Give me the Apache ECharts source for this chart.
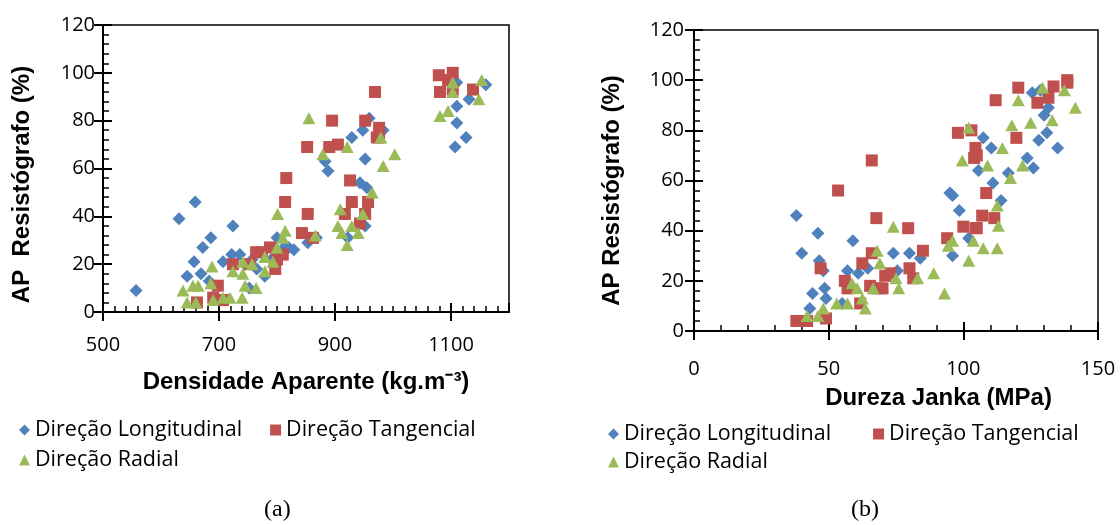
<!DOCTYPE html>
<html>
<head>
<meta charset="utf-8">
<script src="https://cdn.jsdelivr.net/npm/echarts@6/dist/echarts.min.js"></script>
<style>
  html, body { margin: 0; padding: 0; background: #fff; }
  #main { width: 1120px; height: 525px; }
</style>
</head>
<body>
<div id="main"></div>
<script>
// nomes das séries
var seriesNames = ['Direção Longitudinal', 'Direção Tangencial', 'Direção Radial'];

// (a) densidade aparente x AP resistógrafo
var densLong = [[557,9],[631,39],[645,15],[657,21],[659,46],[669,16],[672,27],[683,13],[686,31],[707,21],
    [722,24],[724,36],[736,24],[745,20],[752,10],[757,22],[765,18],[779,15],[790,22],[800,31],[812,27],
    [820,27],[829,26],[853,29],[868,31],[883,63],[888,59],[922,31],[929,73],[943,54],[948,76],[952,64],
    [952,36],[955,52],[959,81],[983,76],[1107,69],[1110,86],[1110,79],[1126,73],[1131,89],[1160,95],[1110,96]];
var densTang = [[662,4],[690,6],[698,11],[707,5],[724,20],[753,20],[764,25],[774,25],[788,27],[797,18],
    [800,22],[810,24],[814,46],[816,56],[843,33],[852,69],[853,41],[862,31],[890,69],[895,80],[905,70],
    [917,41],[926,55],[929,46],[943,37],[952,41],[952,80],[957,46],[969,92],[972,73],[976,77],[976,73],
    [1079,99],[1081,92],[1095,97],[1103,100],[1103,93],[1138,93]];
var densRad = [[638,9],[645,4],[655,11],[660,4],[664,11],[686,12],[688,19],[690,5],[707,6],[719,6],
    [724,17],[740,6],[741,16],[741,21],[745,11],[757,20],[764,10],[779,17],[779,23],[793,21],[800,27],
    [801,41],[810,31],[814,34],[855,81],[866,32],[879,66],[905,36],[909,43],[912,33],[921,28],[921,69],
    [929,36],[940,33],[948,41],[964,50],[979,73],[983,61],[1003,66],[1081,82],[1095,84],[1103,96],
    [1103,92],[1148,89],[1153,97]];

// (b) dureza janka x AP resistógrafo
var jankaLong = [[38,46],[40,31],[43,9],[44,15],[46,39],[46.5,28],[48,24],[48.5,17],[49,13],[55,11],
    [57,24],[59,36],[61,23],[64.5,25],[74,31],[75.5,24],[80,31],[84,29],[95,55],[96,54],[96,30],[98.5,48],
    [102,37],[105.6,64],[107.4,77],[110.4,73],[111,59],[114,52],[116.7,63],[123.7,69],[125.6,95],[126,65],
    [128,76],[128.6,96],[130,86],[131,79],[131.6,89],[135,73]];
var jankaTang = [[38,4],[42,4],[47,25],[49,5],[53.5,56],[56,20],[57,17],[61.7,11],[62.5,27],[65.4,18],
    [66,31],[66,68],[67.7,45],[68,17],[70,17],[71,22],[73,23],[79.5,41],[80,25],[81.4,21],[85,32],[94,37],
    [98,79],[100,41.6],[103,80],[104,69],[104.5,73],[104.5,41],[105,70],[105,41],[107,46],[108.5,55],
    [111.5,45],[112,92],[119.7,77],[120.4,97],[127.5,91],[131.6,93],[133.5,97.5],[138.6,100],[138.6,99]];
var jankaRad = [[42,6],[46,6],[48,9],[53,11],[57,11],[58.7,19],[60.6,17],[62.5,13],[63.6,9],[66.5,17],
    [68,32],[69,27],[74,41.6],[75,21],[76,17],[83,21],[89,23],[93,15],[94.4,34],[96,36],[99.6,68],[102,28],
    [102,81],[103.7,36],[107.4,33],[109,66],[112.6,33],[112.6,50],[113,42],[114.5,73],[117.5,61],[118,82],
    [120.4,92],[122,66],[125,83],[129.4,97],[133,84],[137.5,96],[141.6,89]];

var cores = ['#4F81BD', '#C0504D', '#9BBB59'];
var simbolos = ['diamond', 'rect', 'triangle'];
var tamanhos = [[13,13], [12,12], [13,12]];

var labelFont = { fontFamily: 'Open Sans', fontSize: 20, color: '#000' };
var titleFont = { fontFamily: 'Liberation Sans', fontWeight: 'bold', color: '#000', fontSize: 24 };

// eixo principal: linha, ticks para fora, rótulos
function eixoX(grid, min, max, step, name, gap, pad, margem, showMax) {
    return {
        type: 'value', gridIndex: grid, position: 'bottom', min: min, max: max, interval: step,
        name: name, nameLocation: 'middle', nameGap: gap,
        nameTextStyle: Object.assign({ padding: [0, 0, 0, pad] }, titleFont),
        axisLine: { show: true, onZero: false, lineStyle: { color: '#000', width: 2 } },
        axisTick: { show: true, inside: false, length: 9, lineStyle: { color: '#000', width: 2 } },
        axisLabel: Object.assign({ margin: margem, showMaxLabel: showMax,
            formatter: function (v) { return String(v); } }, labelFont),
        splitLine: { show: false }
    };
}
function eixoY(grid, name, gap, margem, pad) {
    return {
        type: 'value', gridIndex: grid, position: 'left', min: 0, max: 120, interval: 20,
        name: name, nameLocation: 'middle', nameGap: gap, nameRotate: 90,
        nameTextStyle: Object.assign({ padding: [0, pad, 0, 0] }, titleFont),
        axisLine: { show: true, onZero: false, lineStyle: { color: '#000', width: 2 } },
        axisTick: { show: true, inside: false, length: 9, lineStyle: { color: '#000', width: 2 } },
        axisLabel: Object.assign({ margin: margem }, labelFont),
        splitLine: { show: false }
    };
}
// eixo auxiliar só para os ticks para dentro (maiores e menores)
function ticksDentro(tipo, grid, min, max, step, split) {
    return {
        type: 'value', gridIndex: grid, position: tipo === 'x' ? 'bottom' : 'left',
        min: min, max: max, interval: step,
        axisLine: { show: true, onZero: false, lineStyle: { color: '#000', width: 2 } },
        axisTick: { show: true, inside: true, length: 9, lineStyle: { color: '#000', width: 2 } },
        minorTick: { show: true, splitNumber: split, length: 6, lineStyle: { color: '#000', width: 1.5 } },
        axisLabel: { show: false },
        splitLine: { show: false }
    };
}

var series = [];
[densLong, densTang, densRad].forEach(function (d, i) {
    series.push({ name: seriesNames[i], type: 'scatter', xAxisIndex: 0, yAxisIndex: 0, data: d,
        symbol: simbolos[i], symbolSize: tamanhos[i], itemStyle: { color: cores[i], opacity: 1 } });
});
[jankaLong, jankaTang, jankaRad].forEach(function (d, i) {
    series.push({ name: seriesNames[i], type: 'scatter', xAxisIndex: 2, yAxisIndex: 2, data: d,
        symbol: simbolos[i], symbolSize: tamanhos[i], itemStyle: { color: cores[i], opacity: 1 } });
});

function legenda(left, top, nomes, gap) {
    return {
        left: left, top: top, orient: 'horizontal', itemGap: gap, itemWidth: 11, itemHeight: 11,
        selectedMode: false,
        data: nomes.map(function (n) { return { name: n, icon: simbolos[seriesNames.indexOf(n)] }; }),
        textStyle: { fontFamily: 'Open Sans', fontSize: 21.5, color: '#000' }
    };
}

var myChart = echarts.init(document.getElementById('main'), null, { renderer: 'canvas' });
var option = {
    backgroundColor: '#fff',
    animation: false,
    title: [
        { text: '(a)', left: 259, top: 493, textStyle: { fontFamily: 'Liberation Serif', fontSize: 24, fontWeight: 'normal', color: '#000' } },
        { text: '(b)', left: 846, top: 493, textStyle: { fontFamily: 'Liberation Serif', fontSize: 24, fontWeight: 'normal', color: '#000' } }
    ],
    grid: [
        { left: 103, top: 25, width: 406, height: 287, containLabel: false, show: true, borderColor: '#000', borderWidth: 1.5 },
        { left: 694, top: 30, width: 404, height: 301, containLabel: false, show: true, borderColor: '#000', borderWidth: 1.5 }
    ],
    xAxis: [
        eixoX(0, 500, 1200, 200, 'Densidade Aparente (kg.m⁻³)', 58, 0, 23, false),
        ticksDentro('x', 0, 500, 1200, 200, 10),
        eixoX(1, 0, 150, 50, 'Dureza Janka (MPa)', 55, 85, 28, true),
        ticksDentro('x', 1, 0, 150, 50, 5)
    ],
    yAxis: [
        eixoY(0, 'AP  Resistógrafo (%)', 69, 8, 32),
        ticksDentro('y', 0, 0, 120, 20, 5),
        eixoY(1, 'AP Resistógrafo (%)', 70, 10, 20),
        ticksDentro('y', 1, 0, 120, 20, 5)
    ],
    legend: [
        legenda(14, 414, ['Direção Longitudinal', 'Direção Tangencial'], 28),
        legenda(14, 444, ['Direção Radial'], 10),
        legenda(603, 418, ['Direção Longitudinal', 'Direção Tangencial'], 42),
        legenda(603, 446, ['Direção Radial'], 10)
    ],
    series: series
};
myChart.setOption(option);
</script>
</body>
</html>
